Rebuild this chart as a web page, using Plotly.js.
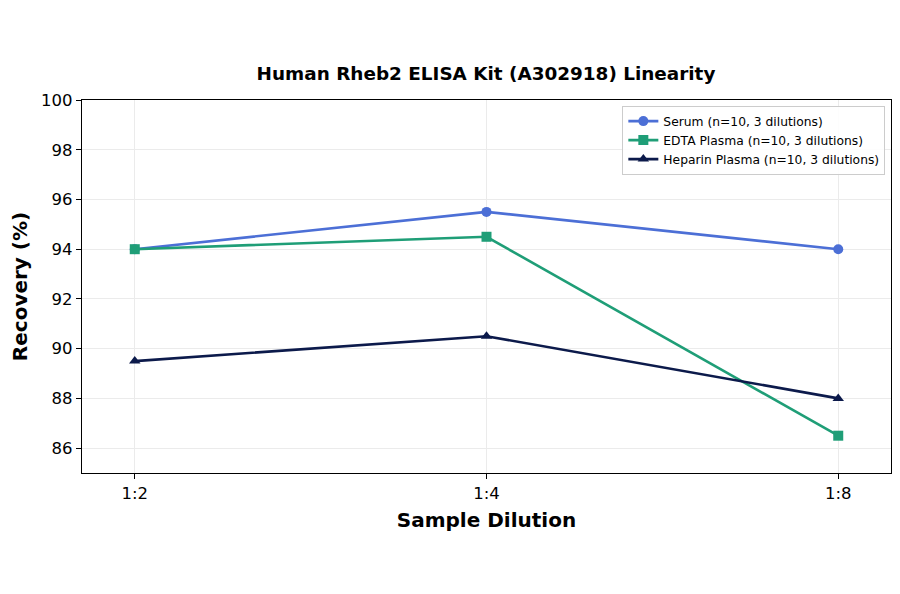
<!DOCTYPE html>
<html><head><meta charset="utf-8">
<script src="https://cdn.plot.ly/plotly-3.0.1.min.js"></script>
<style>body{margin:0;background:#fff}#chart{width:900px;height:594px}</style>
</head><body><div id="chart"></div>
<script>
const dilutions = ["1:2", "1:4", "1:8"];
const serum = [94.0, 95.5, 94.0];
const edta = [94.0, 94.5, 86.5];
const heparin = [89.5, 90.5, 88.0];
const seriesNames = ["Serum (n=10, 3 dilutions)", "EDTA Plasma (n=10, 3 dilutions)", "Heparin Plasma (n=10, 3 dilutions)"];
const yTicks = [86, 88, 90, 92, 94, 96, 98, 100];

const mk = (y, name, color, symbol) => ({
  x: dilutions, y: y, name: name, type: "scatter", mode: "lines+markers",
  line: {color: color, width: 2.6},
  marker: {color: color, symbol: symbol, size: 10}
});
const data = [
  mk(serum, seriesNames[0], "#4C6FD6", "circle"),
  mk(edta, seriesNames[1], "#1F9E77", "square"),
  mk(heparin, seriesNames[2], "#0C1A4B", "triangle-up")
];
const layout = {
  width: 900, height: 594,
  margin: {l: 82, r: 9, t: 100, b: 121},
  paper_bgcolor: "#fff", plot_bgcolor: "#fff",
  font: {family: "DejaVu Sans", color: "#000"},
  title: {text: "<b>Human Rheb2 ELISA Kit (A302918) Linearity</b>", font: {size: 18.4}, x: 0.54, xanchor: "center", y: 0.877, yanchor: "middle"},
  xaxis: {
    type: "category", range: [-0.15, 2.15],
    showgrid: true, gridcolor: "#ebebeb", gridwidth: 1,
    showline: true, linecolor: "#000", linewidth: 1.2, mirror: true,
    ticks: "outside", ticklen: 5, tickcolor: "#000", tickfont: {size: 16.5},
    title: {text: "<b>Sample Dilution</b>", font: {size: 20}, standoff: 11},
    zeroline: false
  },
  yaxis: {
    range: [85, 100], tickvals: yTicks,
    showgrid: true, gridcolor: "#ebebeb", gridwidth: 1,
    showline: true, linecolor: "#000", linewidth: 1.2, mirror: true,
    ticks: "outside", ticklen: 5, tickcolor: "#000", tickfont: {size: 16.5},
    title: {text: "<b>Recovery (%)</b>", font: {size: 20}, standoff: 8},
    zeroline: false
  },
  legend: {
    x: 0.993, xanchor: "right", y: 0.985, yanchor: "top",
    bgcolor: "rgba(255,255,255,0.9)", bordercolor: "#cccccc", borderwidth: 1,
    font: {size: 12.3}, tracegroupgap: 0, itemwidth: 30
  },
  showlegend: true
};
Plotly.newPlot("chart", data, layout, {displayModeBar: false, staticPlot: true});
</script></body></html>
